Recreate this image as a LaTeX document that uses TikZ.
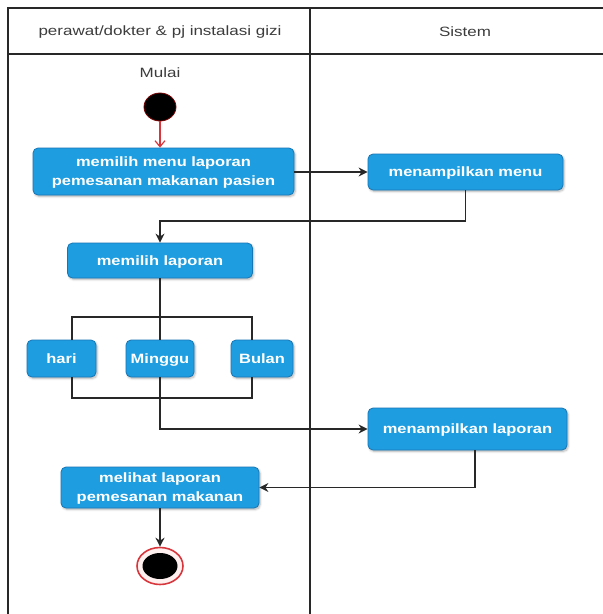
\documentclass[tikz,border=0pt]{standalone}
\usepackage{fontspec}
\setmainfont{Liberation Sans}
\newfontfamily\lanefont[FakeStretch=1.26]{Liberation Sans}
\newfontfamily\boxfont[FakeStretch=1.22]{Liberation Sans Bold}
\usetikzlibrary{arrows.meta,shapes.geometric,shadows.blur}
\definecolor{actblue}{RGB}{30,158,224}
\definecolor{actedge}{RGB}{22,118,182}
\definecolor{lanegray}{RGB}{40,40,40}
\definecolor{txtgray}{RGB}{60,60,60}
\definecolor{ringred}{RGB}{215,55,60}
\begin{document}
\begin{tikzpicture}[x=1pt,y=-1pt,
  act/.style={draw=actedge, line width=0.8pt, fill=actblue, rounded corners=5pt,
    text=white, align=center, inner sep=0pt, text depth=0pt,
    font=\boxfont\fontsize{13.5}{19}\selectfont,
    blur shadow={shadow xshift=1.2pt, shadow yshift=-1.5pt, shadow opacity=30, shadow blur steps=5}},
  lane/.style={draw=lanegray, line width=1.3pt},
  lanetext/.style={text=txtgray, font=\lanefont\fontsize{13.5}{16}\selectfont},
  flow/.style={draw=lanegray, line width=1.2pt},
  arr/.style={flow, -{Stealth[length=9pt,width=9pt]}},
]
\useasboundingbox (0,0) rectangle (603,614);
% swimlane frame
\coordinate (fTL) at (8,8);
\coordinate (fTR) at (604,8);
\coordinate (hL) at (8,54);
\coordinate (hR) at (604,54);
\coordinate (fBL) at (8,615);
\coordinate (dT) at (310,8);
\coordinate (dB) at (310,615);
\draw[lane] (fTR) -- (fTL) -- (fBL);
\draw[lane] (hL) -- (hR);
\draw[lane] (dT) -- (dB);
\node[lanetext] (lane1) at (160,32) {perawat/dokter \& pj instalasi gizi};
\node[lanetext] (lane2) at (465,32) {Sistem};
\node[lanetext] (mulai) at (160,73) {Mulai};
% start
\node[ellipse, fill=black, draw={rgb,255:red,120;green,0;blue,0}, line width=0.8pt,
  minimum width=32pt, minimum height=28pt, inner sep=0pt] (start) at (160,107) {};
% activities
\node[act, minimum width=261pt, minimum height=47pt] (b1) at (163.5,171.5)
  {memilih menu laporan\\pemesanan makanan pasien};
\node[act, minimum width=195pt, minimum height=36pt] (b2) at (465.5,172) {menampilkan menu};
\node[act, minimum width=185pt, minimum height=35pt] (b3) at (160,260.5) {memilih laporan};
\node[act, minimum width=69pt, minimum height=37pt] (hari) at (61.5,358.5) {hari};
\node[act, minimum width=68pt, minimum height=37pt] (minggu) at (160,358.5) {Minggu};
\node[act, minimum width=62pt, minimum height=37pt] (bulan) at (262,358.5) {Bulan};
\node[act, minimum width=199pt, minimum height=42pt] (b4) at (467.5,429) {menampilkan laporan};
\node[act, minimum width=198pt, minimum height=41pt] (b5) at (160,487.5)
  {melihat laporan\\pemesanan makanan};
% end
\node[ellipse, fill={rgb,255:red,255;green,240;blue,240}, draw=ringred, line width=1.6pt,
  minimum width=46pt, minimum height=37pt, inner sep=0pt] (end) at (160,566) {};
\node[ellipse, fill=black, minimum width=35pt, minimum height=26pt, inner sep=0pt] (endin) at (160,566) {};
% helper coordinates
\coordinate (c1) at (160,221);
\coordinate (tl) at (72,317);
\coordinate (tr) at (252,317);
\coordinate (bl) at (72,398);
\coordinate (br) at (252,398);
\coordinate (c2) at (160,429);
\coordinate (c3) at (475,487.5);
% connectors
\draw[draw=ringred, line width=1.2pt, -{Straight Barb[length=6pt,width=10pt]}] (start) -- (start |- b1.north);
\draw[arr] (b1.east |- b2.west) -- (b2.west);
\draw[arr] (b2.south) |- (c1) -- (b3.north);
\draw[flow] (b3.south) -- (minggu.north);
\draw[flow] (tl |- hari.north) -- (tl) -- (tr) -- (tr |- bulan.north);
\draw[flow] (bl |- hari.south) -- (bl) -- (br) -- (br |- bulan.south);
\draw[arr] (minggu.south) -- (c2) -- (b4.west);
\draw[arr] (c3 |- b4.south) -- (c3) -- (b5.east);
\draw[arr] (b5.south) -- (end.north);
\end{tikzpicture}
\end{document}
